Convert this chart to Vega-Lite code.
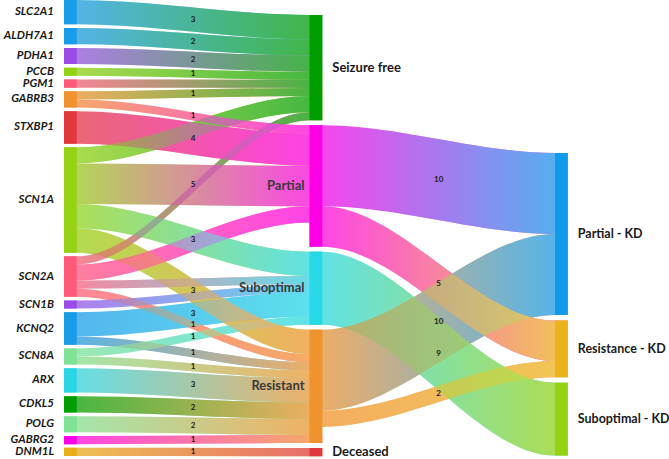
{
  "$schema": "https://vega.github.io/schema/vega-lite/v6.json",
  "width": 669,
  "height": 459,
  "padding": 0,
  "autosize": {"type": "none"},
  "config": {"view": {"stroke": null}, "font": "Lato"},
  "data": {
    "values": [
      {"s": "SLC2A1", "t": "Seizure free", "v": 3, "stage": 1},
      {"s": "ALDH7A1", "t": "Seizure free", "v": 2, "stage": 1},
      {"s": "PDHA1", "t": "Seizure free", "v": 2, "stage": 1},
      {"s": "PCCB", "t": "Seizure free", "v": 1, "stage": 1},
      {"s": "PGM1", "t": "Seizure free", "v": 1, "stage": 1},
      {"s": "GABRB3", "t": "Seizure free", "v": 1, "stage": 1},
      {"s": "GABRB3", "t": "Partial", "v": 1, "stage": 1},
      {"s": "STXBP1", "t": "Partial", "v": 4, "stage": 1},
      {"s": "SCN1A", "t": "Seizure free", "v": 2, "stage": 1},
      {"s": "SCN1A", "t": "Partial", "v": 5, "stage": 1},
      {"s": "SCN1A", "t": "Suboptimal", "v": 3, "stage": 1},
      {"s": "SCN1A", "t": "Resistant", "v": 3, "stage": 1},
      {"s": "SCN2A", "t": "Seizure free", "v": 1, "stage": 1},
      {"s": "SCN2A", "t": "Partial", "v": 2, "stage": 1},
      {"s": "SCN2A", "t": "Suboptimal", "v": 1, "stage": 1},
      {"s": "SCN2A", "t": "Resistant", "v": 1, "stage": 1},
      {"s": "SCN1B", "t": "Suboptimal", "v": 1, "stage": 1},
      {"s": "KCNQ2", "t": "Suboptimal", "v": 3, "stage": 1},
      {"s": "KCNQ2", "t": "Resistant", "v": 1, "stage": 1},
      {"s": "SCN8A", "t": "Suboptimal", "v": 1, "stage": 1},
      {"s": "SCN8A", "t": "Resistant", "v": 1, "stage": 1},
      {"s": "ARX", "t": "Resistant", "v": 3, "stage": 1},
      {"s": "CDKL5", "t": "Resistant", "v": 2, "stage": 1},
      {"s": "POLG", "t": "Resistant", "v": 2, "stage": 1},
      {"s": "GABRG2", "t": "Resistant", "v": 1, "stage": 1},
      {"s": "DNM1L", "t": "Deceased", "v": 1, "stage": 1},
      {"s": "Partial", "t": "Partial - KD", "v": 10, "stage": 2},
      {"s": "Partial", "t": "Resistance - KD", "v": 5, "stage": 2},
      {"s": "Suboptimal", "t": "Suboptimal - KD", "v": 9, "stage": 2},
      {"s": "Resistant", "t": "Partial - KD", "v": 10, "stage": 2},
      {"s": "Resistant", "t": "Resistance - KD", "v": 2, "stage": 2}
    ]
  },
  "transform": [
    {"window": [{"op": "row_number", "as": "idx"}]},
    {"fold": ["s", "t"], "as": ["side", "node"]},
    {"calculate": "datum.side === 's' ? datum.stage - 1 : datum.stage", "as": "col"},
    {"joinaggregate": [{"op": "min", "field": "idx", "as": "nfirst"}], "groupby": ["node"]},
    {"joinaggregate": [{"op": "sum", "field": "v", "as": "dsum"}], "groupby": ["node", "side"]},
    {"joinaggregate": [{"op": "max", "field": "dsum", "as": "nval"}], "groupby": ["node"]},
    {"calculate": "datum.side === 's' ? 1 : 0", "as": "isOut"},
    {"joinaggregate": [{"op": "sum", "field": "isOut", "as": "nout"}], "groupby": ["node"]},
    {"window": [{"op": "row_number", "as": "rn"}], "groupby": ["node"], "sort": [{"field": "idx"}, {"field": "side"}]},
    {"calculate": "datum.rn === 1 ? datum.nval : 0", "as": "nv1"},
    {"window": [{"op": "sum", "field": "nv1", "as": "ncum"}, {"op": "dense_rank", "as": "nrank"}], "groupby": ["col"], "sort": [{"field": "nfirst"}], "frame": [null, 0]},
    {"calculate": "[0, 1.852, 18.889][datum.col] + datum.ncum - datum.nval + (datum.nrank - 1) * [0.4556, 0.617, 0.679][datum.col]", "as": "ny0"},
    {"window": [{"op": "sum", "field": "v", "as": "scum"}], "groupby": ["node", "side"], "sort": [{"field": "idx"}], "frame": [null, 0]},
    {"calculate": "datum.ny0 + datum.scum - datum.v", "as": "ly0"},
    {"calculate": "datum.ny0 + datum.scum", "as": "ly1"},
    {"calculate": "datum.col", "as": "xl"},
    {"calculate": "datum.col + 0.052", "as": "xr"}
  ],
  "layer": [
    {
      "transform": [{"fold": ["xl", "xr"], "as": ["xk", "px"]}],
      "mark": {"type": "area", "interpolate": "monotone", "fillOpacity": 0.75},
      "encoding": {
        "x": {"field": "px", "type": "quantitative", "scale": {"domain": [-0.26069, 2.46436], "nice": false, "zero": false}, "axis": null},
        "y": {"field": "ly0", "type": "quantitative", "stack": null, "scale": {"domain": [0, 56.667], "reverse": true, "nice": false, "zero": false}, "axis": null},
        "y2": {"field": "ly1"},
        "color": {"field": "s", "type": "nominal", "legend": null, "scale": {"domain": ["SLC2A1", "ALDH7A1", "PDHA1", "PCCB", "PGM1", "GABRB3", "STXBP1", "SCN1A", "SCN2A", "SCN1B", "KCNQ2", "SCN8A", "ARX", "CDKL5", "POLG", "GABRG2", "DNM1L", "Seizure free", "Partial", "Suboptimal", "Resistant", "Deceased", "Partial - KD", "Resistance - KD", "Suboptimal - KD"], "range": ["#1a9be8", "#1a9be8", "#9a4de6", "#96d214", "#ff5a7a", "#f0922e", "#e0383c", "#96d214", "#ff5a7a", "#9a4de6", "#1a9be8", "#80e294", "#2ad6e6", "#009e00", "#80e294", "#ff00e6", "#e8b018", "#009e00", "#ff00e6", "#27d8e6", "#f0922e", "#e0383c", "#129aea", "#ebb21c", "#96d214"]}},
        "detail": {"field": "idx", "type": "nominal"}
      }
    },
    {
      "transform": [{"filter": "datum.t === 'Seizure free'"}, {"fold": ["xl", "xr"], "as": ["xk", "px"]}],
      "mark": {"type": "area", "interpolate": "monotone", "fill": {"gradient": "linear", "x1": 0, "y1": 0, "x2": 1, "y2": 0, "stops": [{"offset": 0, "color": "rgba(64,182,64,0)"}, {"offset": 1, "color": "rgba(64,182,64,1)"}]}},
      "encoding": {
        "x": {"field": "px", "type": "quantitative"},
        "y": {"field": "ly0", "type": "quantitative", "stack": null},
        "y2": {"field": "ly1"},
        "detail": {"field": "idx", "type": "nominal"}
      }
    },
    {
      "transform": [{"filter": "datum.t === 'Partial'"}, {"fold": ["xl", "xr"], "as": ["xk", "px"]}],
      "mark": {"type": "area", "interpolate": "monotone", "fill": {"gradient": "linear", "x1": 0, "y1": 0, "x2": 1, "y2": 0, "stops": [{"offset": 0, "color": "rgba(255,64,236,0)"}, {"offset": 1, "color": "rgba(255,64,236,1)"}]}},
      "encoding": {
        "x": {"field": "px", "type": "quantitative"},
        "y": {"field": "ly0", "type": "quantitative", "stack": null},
        "y2": {"field": "ly1"},
        "detail": {"field": "idx", "type": "nominal"}
      }
    },
    {
      "transform": [{"filter": "datum.t === 'Suboptimal'"}, {"fold": ["xl", "xr"], "as": ["xk", "px"]}],
      "mark": {"type": "area", "interpolate": "monotone", "fill": {"gradient": "linear", "x1": 0, "y1": 0, "x2": 1, "y2": 0, "stops": [{"offset": 0, "color": "rgba(93,226,236,0)"}, {"offset": 1, "color": "rgba(93,226,236,1)"}]}},
      "encoding": {
        "x": {"field": "px", "type": "quantitative"},
        "y": {"field": "ly0", "type": "quantitative", "stack": null},
        "y2": {"field": "ly1"},
        "detail": {"field": "idx", "type": "nominal"}
      }
    },
    {
      "transform": [{"filter": "datum.t === 'Resistant'"}, {"fold": ["xl", "xr"], "as": ["xk", "px"]}],
      "mark": {"type": "area", "interpolate": "monotone", "fill": {"gradient": "linear", "x1": 0, "y1": 0, "x2": 1, "y2": 0, "stops": [{"offset": 0, "color": "rgba(244,174,98,0)"}, {"offset": 1, "color": "rgba(244,174,98,1)"}]}},
      "encoding": {
        "x": {"field": "px", "type": "quantitative"},
        "y": {"field": "ly0", "type": "quantitative", "stack": null},
        "y2": {"field": "ly1"},
        "detail": {"field": "idx", "type": "nominal"}
      }
    },
    {
      "transform": [{"filter": "datum.t === 'Deceased'"}, {"fold": ["xl", "xr"], "as": ["xk", "px"]}],
      "mark": {"type": "area", "interpolate": "monotone", "fill": {"gradient": "linear", "x1": 0, "y1": 0, "x2": 1, "y2": 0, "stops": [{"offset": 0, "color": "rgba(232,106,109,0)"}, {"offset": 1, "color": "rgba(232,106,109,1)"}]}},
      "encoding": {
        "x": {"field": "px", "type": "quantitative"},
        "y": {"field": "ly0", "type": "quantitative", "stack": null},
        "y2": {"field": "ly1"},
        "detail": {"field": "idx", "type": "nominal"}
      }
    },
    {
      "transform": [{"filter": "datum.t === 'Partial - KD'"}, {"fold": ["xl", "xr"], "as": ["xk", "px"]}],
      "mark": {"type": "area", "interpolate": "monotone", "fill": {"gradient": "linear", "x1": 0, "y1": 0, "x2": 1, "y2": 0, "stops": [{"offset": 0, "color": "rgba(78,180,240,0)"}, {"offset": 1, "color": "rgba(78,180,240,1)"}]}},
      "encoding": {
        "x": {"field": "px", "type": "quantitative"},
        "y": {"field": "ly0", "type": "quantitative", "stack": null},
        "y2": {"field": "ly1"},
        "detail": {"field": "idx", "type": "nominal"}
      }
    },
    {
      "transform": [{"filter": "datum.t === 'Resistance - KD'"}, {"fold": ["xl", "xr"], "as": ["xk", "px"]}],
      "mark": {"type": "area", "interpolate": "monotone", "fill": {"gradient": "linear", "x1": 0, "y1": 0, "x2": 1, "y2": 0, "stops": [{"offset": 0, "color": "rgba(240,198,85,0)"}, {"offset": 1, "color": "rgba(240,198,85,1)"}]}},
      "encoding": {
        "x": {"field": "px", "type": "quantitative"},
        "y": {"field": "ly0", "type": "quantitative", "stack": null},
        "y2": {"field": "ly1"},
        "detail": {"field": "idx", "type": "nominal"}
      }
    },
    {
      "transform": [{"filter": "datum.t === 'Suboptimal - KD'"}, {"fold": ["xl", "xr"], "as": ["xk", "px"]}],
      "mark": {"type": "area", "interpolate": "monotone", "fill": {"gradient": "linear", "x1": 0, "y1": 0, "x2": 1, "y2": 0, "stops": [{"offset": 0, "color": "rgba(177,221,79,0)"}, {"offset": 1, "color": "rgba(177,221,79,1)"}]}},
      "encoding": {
        "x": {"field": "px", "type": "quantitative"},
        "y": {"field": "ly0", "type": "quantitative", "stack": null},
        "y2": {"field": "ly1"},
        "detail": {"field": "idx", "type": "nominal"}
      }
    },
    {
      "transform": [{"filter": "datum.rn === 1"}, {"calculate": "datum.ny0 + datum.nval", "as": "ny1"}],
      "mark": {"type": "rect"},
      "encoding": {
        "x": {"field": "xl", "type": "quantitative"},
        "x2": {"field": "xr"},
        "y": {"field": "ny0", "type": "quantitative"},
        "y2": {"field": "ny1"},
        "color": {"field": "node", "type": "nominal", "legend": null}
      }
    },
    {
      "transform": [
        {"calculate": "(datum.ly0 + datum.ly1) / 2", "as": "yc"},
        {"calculate": "datum.side === 's' ? datum.xr : datum.xl", "as": "xin"},
        {"aggregate": [{"op": "mean", "field": "yc", "as": "my"}, {"op": "mean", "field": "xin", "as": "mx"}], "groupby": ["idx", "v", "s", "t"]},
        {"filter": "indexof(['PGM1>Seizure free', 'SCN1A>Seizure free', 'SCN2A>Seizure free', 'SCN2A>Partial', 'SCN2A>Suboptimal', 'SCN1B>Suboptimal'], datum.s + '>' + datum.t) < 0"}
      ],
      "mark": {"type": "text", "fontSize": 8, "fontWeight": "bold", "color": "#1a1a1a", "baseline": "middle"},
      "encoding": {
        "x": {"field": "mx", "type": "quantitative"},
        "y": {"field": "my", "type": "quantitative"},
        "text": {"field": "v", "type": "quantitative"}
      }
    },
    {
      "transform": [{"filter": "datum.rn === 1 && datum.col === 0"}, {"calculate": "datum.ny0 + datum.nval / 2", "as": "nyc"}],
      "mark": {"type": "text", "align": "right", "baseline": "middle", "dx": -10, "fontSize": 11.5, "fontWeight": "bold", "fontStyle": "italic", "color": "#1a1a1a"},
      "encoding": {
        "x": {"field": "xl", "type": "quantitative"},
        "y": {"field": "nyc", "type": "quantitative"},
        "text": {"field": "node", "type": "nominal"}
      }
    },
    {
      "transform": [{"filter": "datum.rn === 1 && datum.col > 0 && datum.nout > 0"}, {"calculate": "datum.ny0 + datum.nval / 2", "as": "nyc"}],
      "mark": {"type": "text", "align": "right", "baseline": "middle", "dx": -5, "fontSize": 13, "fontWeight": "bold", "color": "#3a3a3a"},
      "encoding": {
        "x": {"field": "xl", "type": "quantitative"},
        "y": {"field": "nyc", "type": "quantitative"},
        "text": {"field": "node", "type": "nominal"}
      }
    },
    {
      "transform": [{"filter": "datum.rn === 1 && datum.nout === 0 && datum.col === 1"}, {"calculate": "datum.ny0 + datum.nval / 2", "as": "nyc"}],
      "mark": {"type": "text", "align": "left", "baseline": "middle", "dx": 10, "fontSize": 13, "fontWeight": "bold", "color": "#1a1a1a"},
      "encoding": {
        "x": {"field": "xr", "type": "quantitative"},
        "y": {"field": "nyc", "type": "quantitative"},
        "text": {"field": "node", "type": "nominal"}
      }
    },
    {
      "transform": [{"filter": "datum.rn === 1 && datum.nout === 0 && datum.col === 2"}, {"calculate": "datum.ny0 + datum.nval / 2", "as": "nyc"}],
      "mark": {"type": "text", "align": "left", "baseline": "middle", "dx": 10, "fontSize": 12.5, "fontWeight": "bold", "color": "#1a1a1a"},
      "encoding": {
        "x": {"field": "xr", "type": "quantitative"},
        "y": {"field": "nyc", "type": "quantitative"},
        "text": {"field": "node", "type": "nominal"}
      }
    }
  ]
}
